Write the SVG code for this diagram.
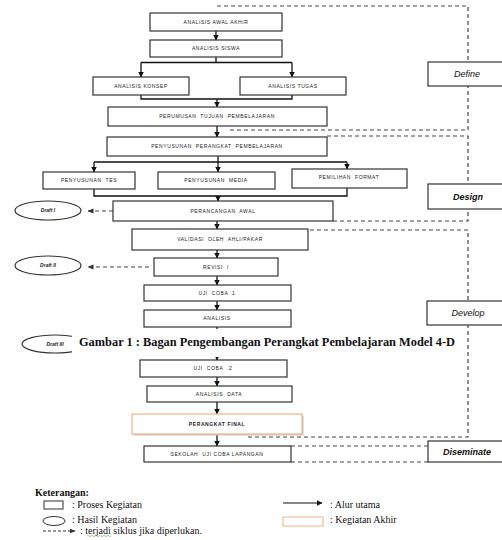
<svg xmlns="http://www.w3.org/2000/svg" width="502" height="540" viewBox="0 0 502 540">
<defs>
<marker id="ah" markerWidth="6" markerHeight="6" refX="5.5" refY="3" orient="auto" markerUnits="userSpaceOnUse"><path d="M0,0 L6,3 L0,6 z" fill="#111"/></marker>
<marker id="ahd" markerWidth="6" markerHeight="6" refX="5.5" refY="3" orient="auto" markerUnits="userSpaceOnUse"><path d="M0,0.5 L6,3 L0,5.5 z" fill="#333"/></marker>
<style>
.box{fill:#fff;stroke:#333;stroke-width:1.2}
.fin{fill:#fff;stroke:#f4b183;stroke-width:1.2}
.t{font-family:"Liberation Sans",Arial,sans-serif;font-size:5px;letter-spacing:0.6px;fill:#222;text-anchor:middle;white-space:pre}
.tb{font-weight:bold}
.ph{font-family:"Liberation Sans",Arial,sans-serif;font-size:9px;font-style:italic;fill:#111;text-anchor:middle}
.dr{font-family:"Liberation Sans",Arial,sans-serif;font-size:5px;font-style:italic;font-weight:bold;fill:#222;text-anchor:middle}
.ell{fill:#fff;stroke:#333;stroke-width:1.2}
.ln{fill:none;stroke:#111;stroke-width:1.3}
.dl{fill:none;stroke:#444;stroke-width:1.2;stroke-dasharray:4,3}
.lg{font-family:"Liberation Serif","Times New Roman",serif;font-size:10px;fill:#111}
</style>
</defs>

<g id="brackets">
<path class="dl" d="M217,6 H468 V130 H230"/>
<path class="dl" d="M327,136 H468 V221 H333"/>
<path class="dl" d="M310,230 H468 V437 H248"/>
<path class="dl" d="M291,446 H428"/>
<path class="dl" d="M291,462 H428"/>
</g>

<g id="connectors">
<path class="ln" d="M216,31 V40" marker-end="url(#ah)"/>
<path class="ln" d="M216,57 V62.5 M141,62.5 H292"/>
<path class="ln" d="M141,62.5 V77" marker-end="url(#ah)"/>
<path class="ln" d="M292,62.5 V77" marker-end="url(#ah)"/>
<path class="ln" d="M141,95 V99 H292 V95"/>
<path class="ln" d="M217,99 V107" marker-end="url(#ah)"/>
<path class="ln" d="M217,126 V137" marker-end="url(#ah)"/>
<path class="ln" d="M218,156 V162 M94,162 H347"/>
<path class="ln" d="M94,162 V172" marker-end="url(#ah)"/>
<path class="ln" d="M218,162 V172" marker-end="url(#ah)"/>
<path class="ln" d="M347,162 V169" marker-end="url(#ah)"/>
<path class="ln" d="M94,189 V196 H347 V188"/>
<path class="ln" d="M218,196 V201" marker-end="url(#ah)"/>
<path class="ln" d="M217,221 V229" marker-end="url(#ah)"/>
<path class="ln" d="M217,250 V258" marker-end="url(#ah)"/>
<path class="ln" d="M217,276 V285" marker-end="url(#ah)"/>
<path class="ln" d="M217,301 V310" marker-end="url(#ah)"/>
<path class="ln" d="M217,327 V360" marker-end="url(#ah)"/>
<path class="ln" d="M217,377 V386" marker-end="url(#ah)"/>
<path class="ln" d="M217,402 V414" marker-end="url(#ah)"/>
<path class="ln" d="M217,434 V446" marker-end="url(#ah)"/>
<path class="dl" d="M113,211 H88" marker-end="url(#ahd)"/>
<path class="dl" d="M149,267 H88" marker-end="url(#ahd)"/>
</g>

<g id="n-awal"><rect class="box" x="150" y="13" width="132" height="18"/><text class="t" x="216" y="23.8">ANALISIS AWAL AKHIR</text></g>
<g id="n-siswa"><rect class="box" x="150" y="40" width="132" height="17"/><text class="t" x="216" y="50.3">ANALISIS SISWA</text></g>
<g id="n-konsep"><rect class="box" x="93" y="77" width="96" height="18"/><text class="t" x="141" y="87.8">ANALISIS KONSEP</text></g>
<g id="n-tugas"><rect class="box" x="240" y="77" width="106" height="18"/><text class="t" x="293" y="87.8">ANALISIS TUGAS</text></g>
<g id="n-tujuan"><rect class="box" x="108" y="107" width="219" height="19"/><text class="t" x="217" y="118.3">PERUMUSAN  TUJUAN  PEMBELAJARAN</text></g>
<g id="n-perangkat"><rect class="box" x="107" y="137" width="220" height="19"/><text class="t" x="217" y="148.3">PENYUSUNAN  PERANGKAT  PEMBELAJARAN</text></g>
<g id="n-tes"><rect class="box" x="43" y="172" width="92" height="17"/><text class="t" x="89" y="182.3">PENYUSUNAN  TES</text></g>
<g id="n-media"><rect class="box" x="158" y="172" width="117" height="17"/><text class="t" x="216" y="182.3">PENYUSUNAN  MEDIA</text></g>
<g id="n-format"><rect class="box" x="292" y="169" width="115" height="19"/><text class="t" x="349" y="178.8">PEMILIHAN  FORMAT</text></g>
<g id="n-rancang"><rect class="box" x="113" y="201" width="220" height="20"/><text class="t" x="223" y="212.8">PERANCANGAN  AWAL</text></g>
<g id="n-validasi"><rect class="box" x="132" y="229" width="176" height="21"/><text class="t" x="220" y="241.3">VALIDASI  OLEH  AHLI/PAKAR</text></g>
<g id="n-revisi"><rect class="box" x="154" y="258" width="124" height="18"/><text class="t" x="216" y="269.3">REVISI  I</text></g>
<g id="n-uji1"><rect class="box" x="144" y="285" width="147" height="16"/><text class="t" x="217" y="294.8">UJI  COBA  1</text></g>
<g id="n-analisis"><rect class="box" x="144" y="310" width="147" height="17"/><text class="t" x="217" y="320.3">ANALISIS</text></g>
<g id="n-uji2"><rect class="box" x="140" y="360" width="147" height="17"/><text class="t" x="213" y="370.3">UJI  COBA  .2</text></g>
<g id="n-data"><rect class="box" x="147" y="386" width="145" height="16"/><text class="t" x="219" y="395.8">ANALISIS  DATA</text></g>
<g id="n-final"><rect x="133.5" y="415.5" width="170" height="20" fill="#c8c8c8"/><rect class="fin" x="132" y="414" width="170" height="20"/><text class="t tb" x="217" y="425.8">PERANGKAT FINAL</text></g>
<g id="n-sekolah"><rect class="box" x="144" y="446" width="147" height="16"/><text class="t" x="217" y="455.8">SEKOLAH  UJI COBA LAPANGAN</text></g>

<g id="p-define"><rect class="box" x="428" y="62" width="80" height="24"/><text class="ph" x="467" y="77">Define</text></g>
<g id="p-design"><rect class="box" x="428" y="184" width="80" height="25"/><text class="ph" x="468" y="200" font-weight="bold">Design</text></g>
<g id="p-develop"><rect class="box" x="427" y="301" width="80" height="24"/><text class="ph" x="468" y="316">Develop</text></g>
<g id="p-diseminate"><rect class="box" x="428" y="441" width="80" height="21"/><text class="ph" x="467" y="455" font-weight="bold">Diseminate</text></g>

<g id="d-draft1"><ellipse class="ell" cx="48" cy="210.5" rx="33" ry="9.5"/><text class="dr" x="48" y="212.3">Draft  I</text></g>
<g id="d-draft2"><ellipse class="ell" cx="48" cy="265.5" rx="33" ry="9.5"/><text class="dr" x="48" y="267.3">Draft  II</text></g>
<g id="d-draft3"><ellipse class="ell" cx="55" cy="344" rx="33" ry="9"/><text class="dr" x="55" y="345.8">Draft  III</text></g>

<g id="caption">
<rect x="72" y="329" width="387" height="28" fill="#fff"/>
<text x="79" y="346" font-family="'Liberation Serif','Times New Roman',serif" font-size="13.5" font-weight="bold" fill="#111" textLength="376" lengthAdjust="spacingAndGlyphs">Gambar 1 : Bagan Pengembangan Perangkat Pembelajaran Model 4-D</text>
</g>

<g id="legend">
<text class="lg" x="35" y="496" font-weight="bold" font-size="11.5">Keterangan:</text>
<rect x="44" y="501" width="19" height="8" fill="#fff" stroke="#333" stroke-width="1"/>
<text class="lg" x="72" y="508">: Proses Kegiatan</text>
<ellipse cx="54" cy="521" rx="11" ry="4.5" fill="#fff" stroke="#333" stroke-width="1"/>
<text class="lg" x="72" y="523">: Hasil Kegiatan</text>
<path d="M43,531 H75" fill="none" stroke="#333" stroke-width="1" stroke-dasharray="3,2" marker-end="url(#ahd)"/>
<text class="lg" x="80" y="534">: terjadi siklus jika diperlukan.</text>
<path d="M87,536 q1,-1 2,0 t2,0 t2,0 t2,0 t2,0 t2,0 t2,0 t2,0 t2,0 t2,0 t2,0 t2,0" fill="none" stroke="#6aa84f" stroke-width="0.6"/>
<path d="M283,503 H322" fill="none" stroke="#111" stroke-width="1" marker-end="url(#ah)"/>
<text class="lg" x="330" y="508">: Alur utama</text>
<rect x="283" y="517" width="40" height="9" fill="#fff" stroke="#f4b183" stroke-width="1"/>
<text class="lg" x="330" y="523">: Kegiatan Akhir</text>
</g>
</svg>
